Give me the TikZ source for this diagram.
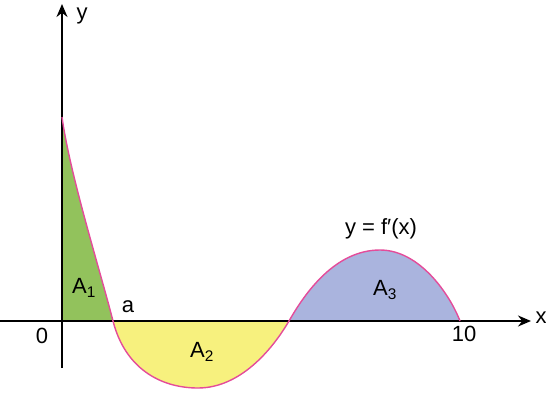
\documentclass[tikz,border=0pt]{standalone}
\usepackage{fontspec}
\setmainfont{Liberation Sans}
\usetikzlibrary{arrows.meta}
\definecolor{areaone}{RGB}{146,194,92}
\definecolor{areatwo}{RGB}{247,241,126}
\definecolor{areathree}{RGB}{170,180,222}
\definecolor{curvepink}{RGB}{228,76,154}
\tikzset{
  axisline/.style={line width=1.8pt,-{Stealth[length=13pt,width=11pt]}},
  curveline/.style={curvepink,line width=1.4pt},
  lbl/.style={inner sep=0pt,font=\fontsize{22}{24}\selectfont}
}
\begin{document}
\begin{tikzpicture}[x=1pt,y=-1pt]
        \useasboundingbox (0,0) rectangle (546,399);
        % shaded areas
        \fill[areaone] (62,321) -- (62,117) .. controls (70,175) and (100,270) .. (113,321) -- cycle;
        \fill[areatwo] (113,321) .. controls (125,368) and (160,388) .. (198,388)
          .. controls (240,388) and (272,350) .. (289,321) -- cycle;
        \fill[areathree] (289,321) .. controls (305,293) and (335,250) .. (380,250)
          .. controls (420,250) and (450,295) .. (460,321) -- cycle;
        % axes
        \coordinate (xs) at (0,321);
        \coordinate (xe) at (531,321);
        \coordinate (ys) at (62,368);
        \coordinate (ye) at (62,4);
        \draw[axisline] (xs) -- (xe);
        \draw[axisline] (ys) -- (ye);
        % curve
        \draw[curveline] (62,117) .. controls (70,175) and (100,270) .. (113,321)
          .. controls (125,368) and (160,388) .. (198,388)
          .. controls (240,388) and (272,350) .. (289,321)
          .. controls (305,293) and (335,250) .. (380,250)
          .. controls (420,250) and (450,295) .. (460,321);
        % labels
        \node[lbl] (ylab) at (82,16) {y};
        \node[lbl] (xlab) at (541,318) {x};
        \node[lbl] (zero) at (42,336) {0};
        \node[lbl] (alab) at (128,307) {a};
        \node[lbl] (ten) at (464,334) {10};
        \node[lbl] (aone) at (84,288) {A\textsubscript{1}};
        \node[lbl] (atwo) at (202,352) {A\textsubscript{2}};
        \node[lbl] (athree) at (385,290) {A\textsubscript{3}};
        \node[lbl] (fname) at (381,229) {y = f′(x)};
      \end{tikzpicture}
\end{document}
